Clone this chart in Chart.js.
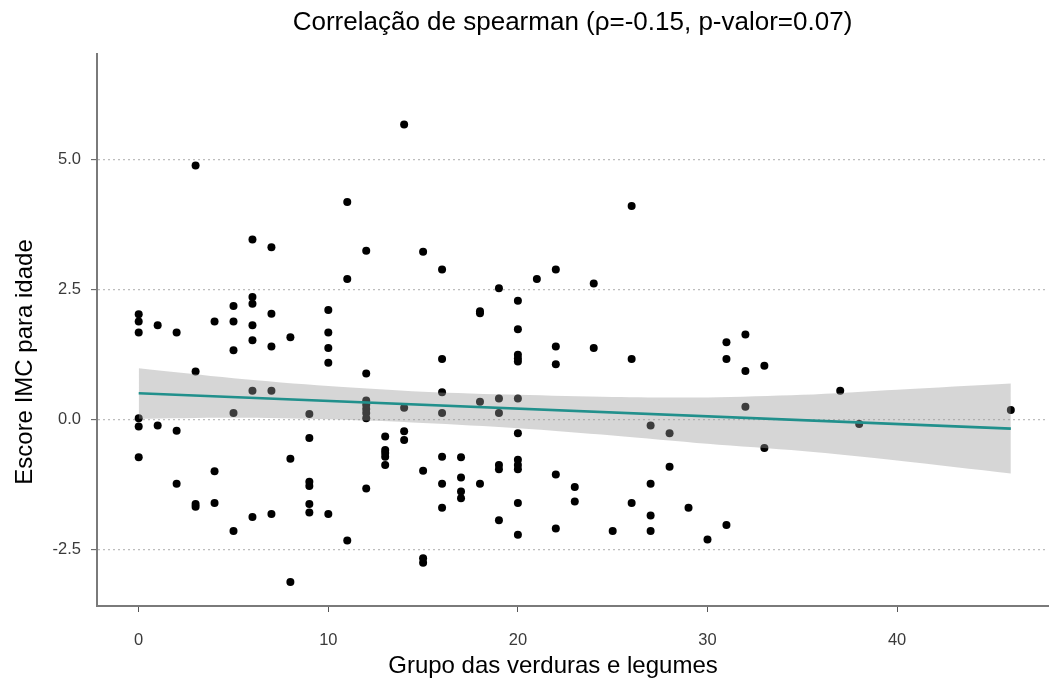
<!DOCTYPE html>
<html>
<head>
<meta charset="utf-8">
<script src="https://cdn.jsdelivr.net/npm/chart.js@4.4.1/dist/chart.umd.min.js"></script>
<style>
  html, body { margin: 0; padding: 0; background: #ffffff; }
  #wrap { width: 1052px; height: 686px; }
</style>
</head>
<body>
<div id="wrap"><canvas id="c" width="1052" height="686"></canvas></div>
<script>
// ---- Data ----
const chartTitle = 'Correlação de spearman (ρ=-0.15, p-valor=0.07)';
const xAxisTitle = 'Grupo das verduras e legumes';
const yAxisTitle = 'Escore IMC para idade';

const xTickValues = [0, 10, 20, 30, 40];
const yTickValues = [-2.5, 0, 2.5, 5];
const yTickLabels = ['-2.5', '0.0', '2.5', '5.0'];

// x = vegetable group score, y = BMI-for-age z-score
const vegGroup = [
  0,0,0,0,0,0,
  1,1,
  2,2,2,
  3,3,3,3,
  4,4,4,
  5,5,5,5,5,
  6,6,6,6,6,6,6,
  7,7,7,7,7,
  8,8,8,
  9,9,9,9,9,9,
  10,10,10,10,10,
  11,11,11,
  12,12,12,12,12,12,12,12,
  13,13,13,13,13,
  14,14,14,14,
  15,15,15,15,
  16,16,16,16,16,16,16,
  17,17,17,17,
  18,18,18,18,
  19,19,19,19,19,19,
  20,20,20,20,20,20,20,20,20,20,20,20,
  21,
  22,22,22,22,22,
  23,23,
  24,24,
  25,
  26,26,26,
  27,27,27,27,
  28,28,
  29,
  30,
  31,31,31,
  32,32,32,
  33,33,
  37,
  38,
  46
];
const bmiScore = [
  2.02,1.88,1.67,0.02,-0.14,-0.73,
  1.81,-0.12,
  1.67,-0.22,-1.24,
  4.88,0.92,-1.63,-1.68,
  1.88,-1.00,-1.61,
  2.18,1.88,1.33,0.12,-2.15,
  3.46,2.35,2.22,1.81,1.52,0.55,-1.88,
  3.31,2.03,1.40,0.55,-1.82,
  1.58,-0.76,-3.13,
  0.10,-0.36,-1.20,-1.28,-1.63,-1.79,
  2.10,1.67,1.37,1.09,-1.82,
  4.18,2.70,-2.33,
  3.24,0.88,0.36,0.28,0.20,0.12,0.02,-1.33,
  -0.33,-0.59,-0.65,-0.72,-0.88,
  5.67,0.22,-0.23,-0.40,
  3.22,-0.99,-2.67,-2.76,
  2.88,1.16,0.52,0.12,-0.72,-1.24,-1.70,
  -0.73,-1.12,-1.39,-1.52,
  2.08,2.04,0.34,-1.24,
  2.52,0.40,0.12,-0.88,-0.96,-1.94,
  2.28,1.73,1.24,1.17,1.11,0.40,-0.27,-0.78,-0.88,-0.96,-1.61,-2.22,
  2.70,
  2.88,1.40,1.06,-1.06,-2.10,
  -1.30,-1.58,
  2.61,1.37,
  -2.15,
  4.10,1.16,-1.61,
  -0.12,-1.24,-1.85,-2.15,
  -0.27,-0.91,
  -1.70,
  -2.31,
  1.48,1.16,-2.03,
  1.63,0.93,0.24,
  1.03,-0.55,
  0.55,
  -0.09,
  0.18
];

// linear fit and its confidence band
const fitX = [0, 46];
const fitY = [0.50, -0.18];
const bandX     = [0,    5,    10,   15,    20,    25,    30,    35,    40,    46];
const bandUpper = [0.98, 0.79, 0.64, 0.53,  0.47,  0.43,  0.42,  0.47,  0.57,  0.69];
const bandLower = [0.01, 0.03, 0.00, -0.07, -0.17, -0.31, -0.47, -0.61, -0.79, -1.04];

// ---- Build chart ----
const FONT = '"Liberation Sans", Arial, sans-serif';
const toXY = (xs, ys) => xs.map((x, i) => ({ x: x, y: ys[i] }));

const axisTitles = {
  id: 'axisTitles',
  afterDraw(chart) {
    const ctx = chart.ctx;
    ctx.save();
    ctx.fillStyle = '#000000';
    ctx.font = '24px ' + FONT;
    ctx.textAlign = 'center';
    ctx.textBaseline = 'middle';
    ctx.fillText(xAxisTitle, 553, 666);
    ctx.translate(25, 362);
    ctx.rotate(-Math.PI / 2);
    ctx.fillText(yAxisTitle, 0, 0);
    ctx.restore();
  }
};

new Chart(document.getElementById('c'), {
  type: 'scatter',
  data: {
    datasets: [
      {
        type: 'line',
        label: 'fit',
        data: toXY(fitX, fitY),
        borderColor: '#21908C',
        borderWidth: 2.6,
        pointRadius: 0,
        tension: 0,
        fill: false,
        order: 0
      },
      {
        type: 'line',
        label: 'upper',
        data: toXY(bandX, bandUpper),
        borderWidth: 0,
        borderColor: 'rgba(0,0,0,0)',
        backgroundColor: 'rgba(153,153,153,0.4)',
        pointRadius: 0,
        tension: 0.3,
        fill: '+1',
        order: 1
      },
      {
        type: 'line',
        label: 'lower',
        data: toXY(bandX, bandLower),
        borderWidth: 0,
        borderColor: 'rgba(0,0,0,0)',
        pointRadius: 0,
        tension: 0.3,
        fill: false,
        order: 2
      },
      {
        label: 'pontos',
        data: toXY(vegGroup, bmiScore),
        backgroundColor: '#000000',
        borderWidth: 0,
        pointRadius: 4,
        pointHoverRadius: 4,
        order: 3
      }
    ]
  },
  options: {
    responsive: false,
    devicePixelRatio: 1,
    animation: false,
    events: [],
    layout: { padding: { left: 0, right: 0, top: 0, bottom: 0 } },
    plugins: {
      legend: { display: false },
      tooltip: { enabled: false },
      title: {
        display: true,
        text: chartTitle,
        fullSize: false,
        color: '#000000',
        font: { family: FONT, size: 26, weight: 'normal' },
        padding: { top: 7, bottom: 15.8 }
      }
    },
    scales: {
      x: {
        type: 'linear',
        min: -2.2,
        max: 47.96,
        afterFit: (s) => { s.height = 80; },
        afterBuildTicks: (s) => { s.ticks = xTickValues.map(v => ({ value: v })); },
        ticks: {
          color: '#3A3A3A',
          font: { family: FONT, size: 16.5 },
          padding: 19,
          callback: (v) => String(v)
        },
        grid: {
          drawOnChartArea: false,
          drawTicks: true,
          tickLength: 6,
          tickColor: '#555555',
          tickWidth: 1
        },
        border: { display: true, color: '#7A7A7A', width: 2 }
      },
      y: {
        type: 'linear',
        min: -3.59,
        max: 7.025,
        afterFit: (s) => { s.width = 97; },
        afterBuildTicks: (s) => { s.ticks = yTickValues.map(v => ({ value: v })); },
        ticks: {
          color: '#3A3A3A',
          font: { family: FONT, size: 16.5 },
          padding: 10,
          callback: (v) => yTickLabels[yTickValues.indexOf(v)]
        },
        grid: {
          drawOnChartArea: true,
          drawTicks: true,
          tickLength: 6,
          color: '#BDBDBD',
          lineWidth: 1.3,
          tickColor: '#555555',
          tickBorderDash: [],
          tickWidth: 1
        },
        border: { display: true, color: '#7A7A7A', width: 2, dash: [2, 3] }
      }
    }
  },
  plugins: [axisTitles]
});
</script>
</body>
</html>
